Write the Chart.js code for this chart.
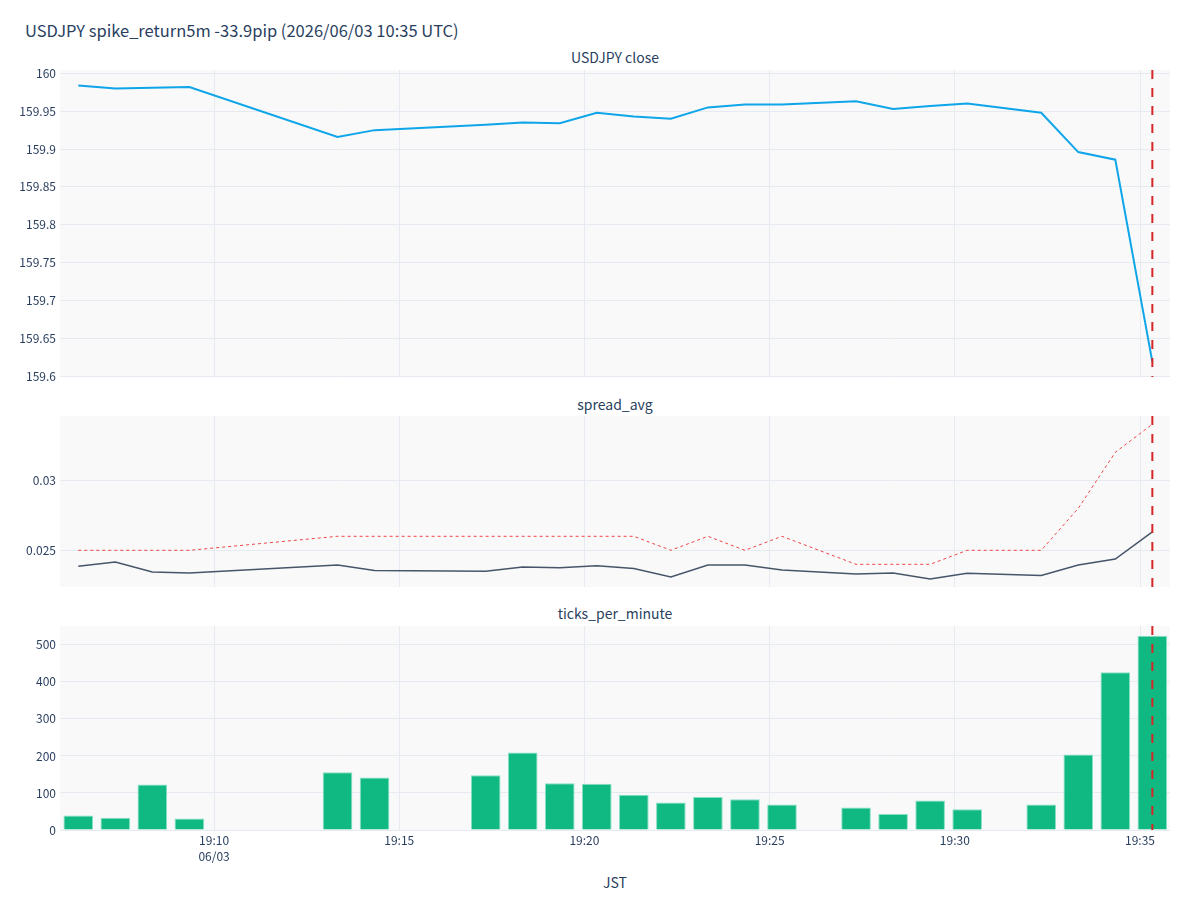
<!DOCTYPE html>
<html>
<head>
<meta charset="utf-8">
<script src="https://cdn.jsdelivr.net/npm/chart.js@4.4.1/dist/chart.umd.min.js"></script>
<style>
  body { margin: 0; background: #fff; width: 1200px; height: 900px; position: relative; overflow: hidden;
         font-family: "Noto Sans CJK JP", "Noto Sans", sans-serif; color: #2a3f5f; }
  .t { position: absolute; white-space: nowrap; }
  .sub { left: 0; width: 1230px; text-align: center; font-size: 14px; }
  canvas { position: absolute; left: 0; }
</style>
</head>
<body>
<div class="t" style="left:25px; top:18px; font-size:16.5px;">USDJPY spike_return5m -33.9pip (2026/06/03 10:35 UTC)</div>
<div class="t sub" style="top:47px;">USDJPY close</div>
<div class="t sub" style="top:394px;">spread_avg</div>
<div class="t sub" style="top:603px;">ticks_per_minute</div>
<div class="t sub" style="top:872px;">JST</div>
<canvas id="c1" style="top:62px" width="1200" height="324"></canvas>
<canvas id="c2" style="top:408px" width="1200" height="188"></canvas>
<canvas id="c3" style="top:619px" width="1200" height="250"></canvas>
<script>
// JST minute stamps
var times = ['19:06:20','19:07:20','19:08:20','19:09:20','19:13:20','19:14:20','19:17:20','19:18:20',
  '19:19:20','19:20:20','19:21:20','19:22:20','19:23:20','19:24:20','19:25:20','19:27:20','19:28:20',
  '19:29:20','19:30:20','19:32:20','19:33:20','19:34:20','19:35:20'];
var closes = [159.984, 159.980, 159.981, 159.982, 159.916, 159.925, 159.932, 159.935, 159.934, 159.948,
  159.943, 159.940, 159.955, 159.959, 159.959, 159.963, 159.953, 159.957, 159.960, 159.948, 159.896,
  159.886, 159.619];
var spreadAvg = [0.02386, 0.02416, 0.02345, 0.02338, 0.02395, 0.02355, 0.0235, 0.0238, 0.02375, 0.0239,
  0.0237, 0.0231, 0.02395, 0.02395, 0.0236, 0.02331, 0.02338, 0.02295, 0.02336, 0.0232, 0.02395,
  0.02438, 0.02631];
var spreadMax = [0.025, 0.025, 0.025, 0.025, 0.026, 0.026, 0.026, 0.026, 0.026, 0.026, 0.026, 0.025,
  0.026, 0.025, 0.026, 0.024, 0.024, 0.024, 0.025, 0.025, 0.028, 0.032, 0.034];
var ticksPerMin = [39, 33, 123, 31, 156, 142, 148, 209, 126, 125, 95, 74, 89, 83, 69, 61, 43, 80, 56,
  69, 204, 426, 525];
var eventTime = '19:35:20';
var xTicks = ['19:10', '19:15', '19:20', '19:25', '19:30', '19:35'];
var closeTicks = [159.6, 159.65, 159.7, 159.75, 159.8, 159.85, 159.9, 159.95, 160];
var spreadTicks = [0.025, 0.03];
var countTicks = [0, 100, 200, 300, 400, 500];

// minutes after 19:00
function toMin(s) {
  var p = s.split(':');
  return (+p[0] - 19) * 60 + (+p[1]) + (p[2] ? +p[2] / 60 : 0);
}
function pts(vals) {
  return vals.map(function (v, i) { return { x: toMin(times[i]), y: v }; });
}

var TXT = '#2a3f5f';
var GRID = '#e6eaf1';
var FONT = '"Noto Sans CJK JP", "Noto Sans", sans-serif';

var bgPlugin = {
  id: 'bg',
  beforeDraw: function (chart) {
    var a = chart.chartArea, c = chart.ctx;
    c.save();
    c.fillStyle = '#f9f9fa';
    c.fillRect(a.left, a.top, a.right - a.left, a.bottom - a.top);
    c.restore();
  }
};
var eventLine = {
  id: 'eventLine',
  afterDatasetsDraw: function (chart) {
    var a = chart.chartArea, c = chart.ctx;
    var x = chart.scales.x.getPixelForValue(toMin(eventTime));
    c.save();
    c.strokeStyle = '#d62728';
    c.lineWidth = 2;
    c.setLineDash([9, 9]);
    c.beginPath();
    c.moveTo(x, a.top);
    c.lineTo(x, a.bottom);
    c.stroke();
    c.restore();
  }
};

function setTicks(list) {
  return function (scale) { scale.ticks = list.map(function (v) { return { value: v }; }); };
}

function xScale(showLabels) {
  return {
    type: 'linear',
    min: 5.84,
    max: 35.81,
    offset: false,
    afterBuildTicks: setTicks(xTicks.map(toMin)),
    afterFit: function (s) {
      s.height = showLabels ? 39 : 0;
      s.paddingLeft = 0; s.paddingRight = 0;
    },
    grid: { color: GRID, drawTicks: false, offset: false },
    border: { display: false },
    ticks: {
      display: showLabels,
      padding: 2,
      color: TXT,
      font: { family: FONT, size: 12, lineHeight: 1.35 },
      maxRotation: 0,
      autoSkip: false,
      callback: function (v) {
        var h = 19 + Math.floor(v / 60), m = Math.round(v % 60);
        var lab = h + ':' + (m < 10 ? '0' + m : m);
        return lab === '19:10' ? [lab, '06/03'] : lab;
      }
    }
  };
}

function yScale(min, max, list) {
  return {
    min: min,
    max: max,
    afterBuildTicks: setTicks(list),
    afterFit: function (s) {
      s.width = 60;
      s.paddingTop = 0; s.paddingBottom = 0;
    },
    grid: { color: GRID, drawTicks: false },
    border: { display: false },
    ticks: {
      padding: 4,
      color: TXT,
      font: { family: FONT, size: 12 },
      callback: function (v) { return String(+v.toFixed(4)); }
    }
  };
}

function baseOptions(pad, x, y) {
  return {
    responsive: false,
    animation: false,
    layout: { padding: pad },
    plugins: { legend: { display: false }, tooltip: { enabled: false } },
    scales: { x: x, y: y }
  };
}

new Chart(document.getElementById('c1'), {
  type: 'line',
  data: {
    datasets: [{
      data: pts(closes),
      borderColor: '#0ea5e9',
      borderWidth: 2,
      pointRadius: 0,
      tension: 0
    }]
  },
  options: baseOptions({ top: 8, bottom: 9, left: 0, right: 30 }, xScale(false),
    yScale(159.599, 160.0044, closeTicks)),
  plugins: [bgPlugin, eventLine]
});

new Chart(document.getElementById('c2'), {
  type: 'line',
  data: {
    datasets: [{
      data: pts(spreadMax),
      borderColor: '#ef4444',
      borderWidth: 1,
      borderDash: [3, 3],
      pointRadius: 0,
      tension: 0
    }, {
      data: pts(spreadAvg),
      borderColor: '#475569',
      borderWidth: 1.5,
      pointRadius: 0,
      tension: 0
    }]
  },
  options: baseOptions({ top: 8, bottom: 9, left: 0, right: 30 }, xScale(false),
    yScale(0.02238, 0.03459, spreadTicks)),
  plugins: [bgPlugin, eventLine]
});

new Chart(document.getElementById('c3'), {
  type: 'bar',
  data: {
    datasets: [{
      data: pts(ticksPerMin),
      backgroundColor: '#10b981',
      borderColor: '#86e0c2',
      borderWidth: 1,
      barPercentage: 0.8,
      categoryPercentage: 1.0
    }]
  },
  options: baseOptions({ top: 7, bottom: 0, left: 0, right: 30 }, xScale(true),
    yScale(0, 551, countTicks)),
  plugins: [bgPlugin, eventLine]
});
</script>
</body>
</html>
